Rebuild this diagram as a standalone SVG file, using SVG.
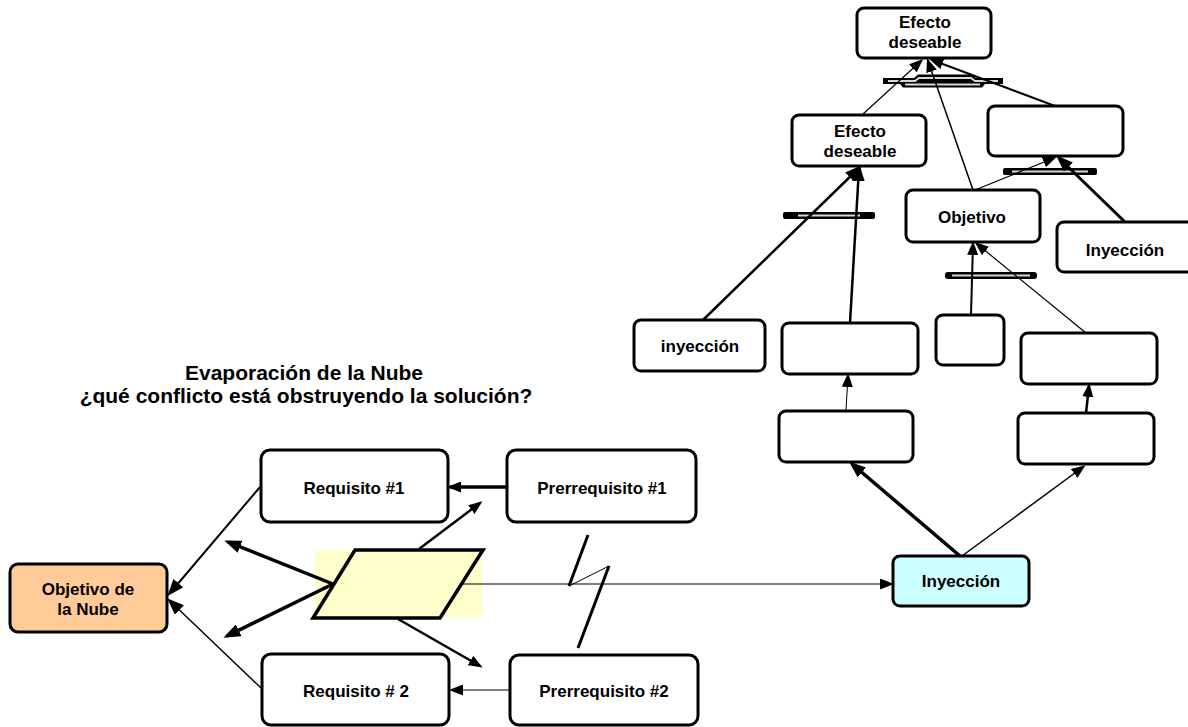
<svg xmlns="http://www.w3.org/2000/svg" width="1188" height="727" viewBox="0 0 1188 727">
  <style>
    .box { fill: #ffffff; stroke: #000000; stroke-width: 3; }
    .goal { fill: #ffcc99; stroke: #000000; stroke-width: 3; }
    .inj { fill: #ccffff; stroke: #000000; stroke-width: 3; }
    .lbl { font-family: "Liberation Sans", Arial, sans-serif; font-weight: bold; font-size: 17px; fill: #000000; text-anchor: middle; }
    .title { font-family: "Liberation Sans", Arial, sans-serif; font-weight: bold; font-size: 21px; fill: #000000; text-anchor: middle; }
    .ln { fill: none; stroke: #000000; }
    .bar { fill: #000000; }
    .barin { fill: none; stroke: #d8d8d8; stroke-width: 2; }
  </style>
  <defs>
    <marker id="hs" viewBox="0 0 12 10" refX="10" refY="5" markerWidth="12" markerHeight="10" markerUnits="userSpaceOnUse" orient="auto">
      <path d="M0,0 L12,5 L0,10 z" fill="#000"/>
    </marker>
    <marker id="hm" viewBox="0 0 14 11" refX="11" refY="5.5" markerWidth="14" markerHeight="11" markerUnits="userSpaceOnUse" orient="auto">
      <path d="M0,0 L14,5.5 L0,11 z" fill="#000"/>
    </marker>
    <marker id="hl" viewBox="0 0 17 13" refX="13" refY="6.5" markerWidth="17" markerHeight="13" markerUnits="userSpaceOnUse" orient="auto">
      <path d="M0,0 L17,6.5 L0,13 z" fill="#000"/>
    </marker>
  </defs>

  <!-- heading -->
  <g id="heading">
    <text class="title" x="304" y="380">Evaporación de la Nube</text>
    <text class="title" x="306" y="403">¿qué conflicto está obstruyendo la solución?</text>
  </g>

  <!-- highlight behind the conflict shape -->
  <rect x="315" y="550" width="167" height="67" fill="#ffffcc"/>

  <!-- sufficiency bars (AND junctions) -->
  <g id="bars">
    <path class="bar" d="M883,78 L914,78 L918,74.5 L972,74.5 L976,78 L1003,78 L1003,84 L985,84 L982,87.5 L903,87.5 L900,84 L883,84 z"/>
    <polyline class="barin" points="888,81 915,81 919,78 971,78 975,81 998,81"/>
    <path class="barin" d="M905,84.5 L980,84.5"/>
    <rect class="bar" x="783" y="212" width="92" height="7" rx="2"/>
    <line class="barin" x1="798" y1="215.5" x2="860" y2="215.5"/>
    <rect class="bar" x="1003" y="168" width="94" height="7" rx="2"/>
    <line class="barin" x1="1012" y1="171.5" x2="1088" y2="171.5"/>
    <rect class="bar" x="945" y="272" width="92" height="7" rx="3"/>
    <line class="barin" x1="952" y1="275.5" x2="1030" y2="275.5"/>
  </g>

  <!-- connectors -->
  <g id="connectors">
    <!-- cloud -->
    <line class="ln" stroke-width="2" x1="260" y1="487" x2="170" y2="593" marker-end="url(#hl)"/>
    <line class="ln" stroke-width="1.5" x1="261" y1="688" x2="170" y2="601" marker-end="url(#hl)"/>
    <line class="ln" stroke-width="3.5" x1="507" y1="487" x2="450" y2="487" marker-end="url(#hm)"/>
    <line class="ln" stroke-width="1" x1="510" y1="690" x2="452" y2="690" marker-end="url(#hm)"/>
    <line class="ln" stroke-width="3.5" x1="333" y1="584" x2="228" y2="542" marker-end="url(#hl)"/>
    <line class="ln" stroke-width="3.5" x1="333" y1="584" x2="227" y2="636" marker-end="url(#hl)"/>
    <line class="ln" stroke-width="2.5" x1="419" y1="549" x2="480" y2="503" marker-end="url(#hm)"/>
    <line class="ln" stroke-width="2.5" x1="398" y1="619" x2="480" y2="666" marker-end="url(#hm)"/>
    <line class="ln" stroke-width="1" x1="462" y1="584" x2="891" y2="584" marker-end="url(#hm)"/>
    <!-- conflict mark -->
    <polyline class="ln" stroke-width="3" points="588,535 569,586"/>
    <polyline class="ln" stroke-width="1" points="569,586 609,566"/>
    <polyline class="ln" stroke-width="3" points="609,566 578,648"/>

    <!-- injection branches -->
    <line class="ln" stroke-width="3.5" x1="960" y1="556" x2="852" y2="464" marker-end="url(#hl)"/>
    <line class="ln" stroke-width="1.5" x1="962" y1="556" x2="1083" y2="467" marker-end="url(#hm)"/>
    <line class="ln" stroke-width="1" x1="846" y1="410" x2="848" y2="376" marker-end="url(#hm)"/>
    <line class="ln" stroke-width="2.5" x1="1086" y1="413" x2="1089" y2="386" marker-end="url(#hm)"/>
    <line class="ln" stroke-width="2.5" x1="703" y1="320" x2="859" y2="168" marker-end="url(#hl)"/>
    <line class="ln" stroke-width="2.5" x1="850" y1="323" x2="859" y2="168" marker-end="url(#hl)"/>
    <line class="ln" stroke-width="2" x1="971" y1="315" x2="973" y2="244" marker-end="url(#hm)"/>
    <line class="ln" stroke-width="1.2" x1="1086" y1="333" x2="977" y2="244" marker-end="url(#hm)"/>
    <line class="ln" stroke-width="1.5" x1="973" y1="190" x2="928" y2="61" marker-end="url(#hm)"/>
    <line class="ln" stroke-width="1.2" x1="975" y1="190" x2="1054" y2="158" marker-end="url(#hm)"/>
    <line class="ln" stroke-width="3" x1="1125" y1="222" x2="1059" y2="158" marker-end="url(#hl)"/>
    <line class="ln" stroke-width="1.2" x1="863" y1="114" x2="921" y2="61" marker-end="url(#hm)"/>
    <line class="ln" stroke-width="2" x1="1055" y1="106" x2="932" y2="60" marker-end="url(#hm)"/>
  </g>

  <!-- cloud nodes -->
  <g id="objetivo-nube">
    <rect class="goal" x="10" y="564" width="157" height="68" rx="8"/>
    <text class="lbl" x="88" y="595">Objetivo de</text>
    <text class="lbl" x="88" y="615">la Nube</text>
  </g>
  <g id="requisito-1">
    <rect class="box" x="261" y="450" width="187" height="72" rx="9"/>
    <text class="lbl" x="354" y="494">Requisito #1</text>
  </g>
  <g id="requisito-2">
    <rect class="box" x="262" y="654" width="187" height="71" rx="9"/>
    <text class="lbl" x="356" y="697">Requisito # 2</text>
  </g>
  <g id="prerrequisito-1">
    <rect class="box" x="507" y="450" width="189" height="72" rx="9"/>
    <text class="lbl" x="602" y="494">Prerrequisito #1</text>
  </g>
  <g id="prerrequisito-2">
    <rect class="box" x="510" y="655" width="188" height="70" rx="9"/>
    <text class="lbl" x="604" y="697">Prerrequisito #2</text>
  </g>
  <g id="conflicto">
    <polygon points="355,550 483,550 440,618 313,618" fill="#ffffcc" stroke="#000" stroke-width="3.5"/>
  </g>

  <!-- future reality tree nodes -->
  <g id="inyeccion-central">
    <rect class="inj" x="893" y="556" width="136" height="50" rx="7"/>
    <text class="lbl" x="961" y="587">Inyección</text>
  </g>
  <g id="efecto-superior">
    <rect class="box" x="857" y="8" width="134" height="50" rx="7"/>
    <text class="lbl" x="925" y="28">Efecto</text>
    <text class="lbl" x="925" y="48">deseable</text>
  </g>
  <g id="efecto-intermedio">
    <rect class="box" x="792" y="115" width="134" height="51" rx="7"/>
    <text class="lbl" x="860" y="137">Efecto</text>
    <text class="lbl" x="860" y="157">deseable</text>
  </g>
  <g id="efecto-vacio">
    <rect class="box" x="988" y="106" width="135" height="50" rx="7"/>
  </g>
  <g id="objetivo">
    <rect class="box" x="906" y="190" width="134" height="52" rx="7"/>
    <text class="lbl" x="972" y="223">Objetivo</text>
  </g>
  <g id="inyeccion-derecha">
    <rect class="box" x="1057" y="222" width="140" height="50" rx="7"/>
    <text class="lbl" x="1125" y="256">Inyección</text>
  </g>
  <g id="inyeccion-izquierda">
    <rect class="box" x="634" y="320" width="131" height="51" rx="7"/>
    <text class="lbl" x="700" y="352">inyección</text>
  </g>
  <g id="paso-a">
    <rect class="box" x="782" y="323" width="136" height="51" rx="7"/>
  </g>
  <g id="paso-pequeno">
    <rect class="box" x="936" y="315" width="68" height="50" rx="7"/>
  </g>
  <g id="paso-b">
    <rect class="box" x="1021" y="333" width="136" height="51" rx="7"/>
  </g>
  <g id="paso-c">
    <rect class="box" x="779" y="411" width="134" height="51" rx="7"/>
  </g>
  <g id="paso-d">
    <rect class="box" x="1018" y="413" width="136" height="51" rx="7"/>
  </g>
</svg>
